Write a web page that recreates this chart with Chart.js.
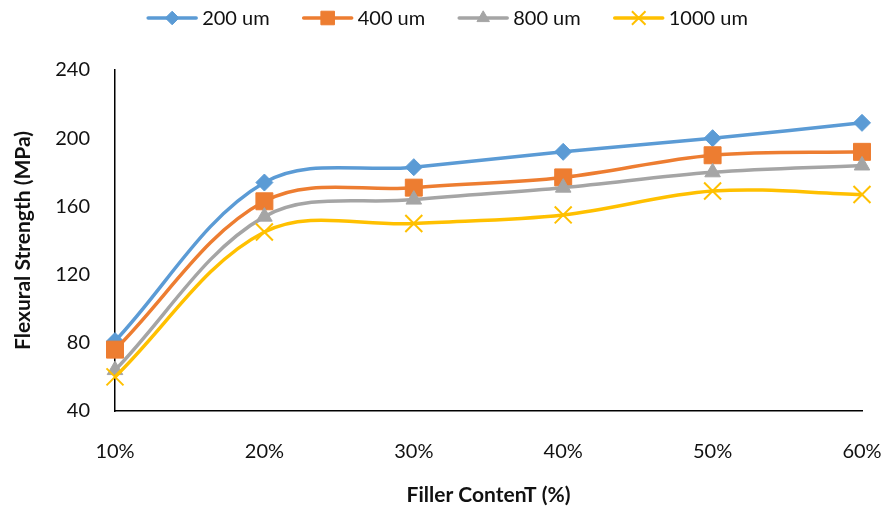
<!DOCTYPE html>
<html>
<head>
<meta charset="utf-8">
<script src="https://cdn.jsdelivr.net/npm/chart.js@4/dist/chart.umd.min.js"></script>
<style>
  html, body { margin: 0; padding: 0; background: #ffffff; }
  #wrap { width: 894px; height: 512px; }
</style>
</head>
<body>
<div id="wrap"><canvas id="c" width="894" height="512"></canvas></div>
<script>
// Filler content (x categories) and flexural strength per particle size (MPa)
const fillerContent = ['10%', '20%', '30%', '40%', '50%', '60%'];
const strength200 = [81, 174, 183, 192, 200, 209];
const strength400 = [76, 163, 171, 177, 190, 192];
const strength800 = [64, 154, 164, 171, 180, 184];
const strength1000 = [60, 145, 150, 155, 169, 167];
const seriesNames = ['200 um', '400 um', '800 um', '1000 um'];
const yTicks = [40, 80, 120, 160, 200, 240];

const FONT = 'Lato, "Open Sans", sans-serif';
const TEXT = '#111111';

function series(label, data, color, style, radius, order, bw) {
  return {
    label, data, order,
    borderColor: color,
    backgroundColor: color,
    borderWidth: 3.5,
    tension: 0.35,
    fill: false,
    pointStyle: style,
    pointRadius: radius,
    pointHoverRadius: radius,
    pointBackgroundColor: color,
    pointBorderColor: color,
    pointBorderWidth: bw
  };
}

// Legend drawn as line + marker, like an office chart legend
const lineLegend = {
  id: 'lineLegend',
  afterDraw(chart) {
    const ctx = chart.ctx;
    const items = chart.data.datasets;
    ctx.save();
    ctx.font = '20px ' + FONT;
    const lineLen = 52, gapText = 4, gapItem = 32;
    const widths = items.map(d => lineLen + gapText + ctx.measureText(d.label).width);
    const total = widths.reduce((a, b) => a + b, 0) + gapItem * (items.length - 1);
    let x = (chart.width - total) / 2;
    const y = 18;
    items.forEach((d, i) => {
      ctx.strokeStyle = d.borderColor;
      ctx.lineWidth = 3.5;
      ctx.lineCap = 'round';
      ctx.beginPath();
      ctx.moveTo(x + 2, y);
      ctx.lineTo(x + lineLen - 2, y);
      ctx.stroke();
      ctx.fillStyle = d.pointBackgroundColor;
      ctx.strokeStyle = d.pointBorderColor;
      ctx.lineWidth = d.pointBorderWidth;
      ctx.lineCap = 'butt';
      Chart.helpers.drawPoint(ctx, {
        pointStyle: d.pointStyle,
        radius: d.pointRadius * 0.8,
        borderWidth: d.pointBorderWidth,
        rotation: 0
      }, x + lineLen / 2, y);
      ctx.fillStyle = TEXT;
      ctx.textBaseline = 'middle';
      ctx.textAlign = 'left';
      ctx.fillText(d.label, x + lineLen + gapText, y + 1);
      x += widths[i] + gapItem;
    });
    ctx.restore();
  }
};

new Chart(document.getElementById('c'), {
  type: 'line',
  data: {
    labels: fillerContent,
    datasets: [
      series(seriesNames[0], strength200, '#5B9BD5', 'rectRot', 8.5, 3, 1),
      series(seriesNames[1], strength400, '#ED7D31', 'rect', 12, 2, 1),
      series(seriesNames[2], strength800, '#A5A5A5', 'triangle', 9, 1, 1),
      series(seriesNames[3], strength1000, '#FFC000', 'crossRot', 12, 0, 2)
    ]
  },
  options: {
    responsive: false,
    animation: false,
    devicePixelRatio: 1,
    layout: { padding: { top: 70, right: 32, left: 0, bottom: 0 } },
    plugins: {
      legend: { display: false },
      tooltip: { enabled: false },
      title: { display: false }
    },
    scales: {
      x: {
        type: 'category',
        offset: false,
        grid: { display: false, drawTicks: false },
        border: { display: true, color: '#000000', width: 1.5 },
        ticks: {
          color: TEXT, font: { family: FONT, size: 20 },
          padding: 29, maxRotation: 0, autoSkip: false
        },
        title: {
          display: true, text: 'Filler ContenT (%)', color: TEXT,
          font: { family: FONT, size: 21, weight: 'bold' },
          padding: { top: 0, bottom: 4 }
        },
        afterFit(s) { s.height = 101; s.paddingLeft = 0; s.paddingRight = 0; }
      },
      y: {
        min: yTicks[0],
        max: yTicks[yTicks.length - 1],
        grid: { display: false, drawTicks: false },
        border: { display: true, color: '#000000', width: 1.5 },
        ticks: {
          stepSize: yTicks[1] - yTicks[0],
          color: TEXT, font: { family: FONT, size: 20 },
          padding: 25
        },
        title: {
          display: true, text: 'Flexural Strength (MPa)', color: TEXT,
          font: { family: FONT, size: 21, weight: 'bold' },
          padding: { top: 11, bottom: 0 }
        },
        afterFit(s) { s.width = 115; s.paddingTop = 0; s.paddingBottom = 0; }
      }
    }
  },
  plugins: [lineLegend]
});
</script>
</body>
</html>
